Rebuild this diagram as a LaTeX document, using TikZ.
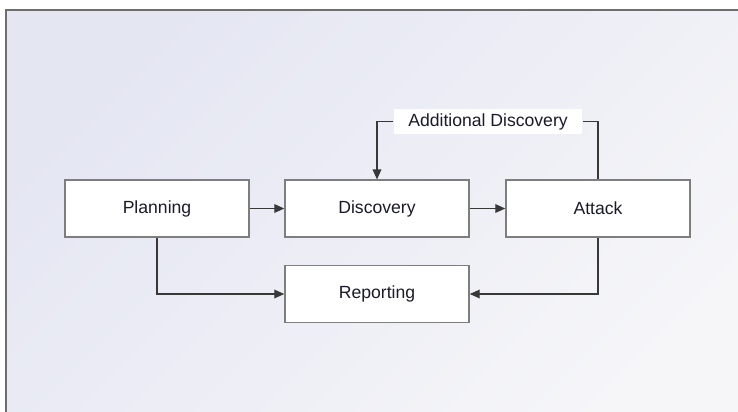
\documentclass[tikz,border=0pt]{standalone}
\usepackage{fontspec}
\setmainfont{Liberation Sans}
\usetikzlibrary{arrows.meta}
\definecolor{paneltl}{HTML}{E4E6F2}
\definecolor{panelbr}{HTML}{F6F6F9}
\definecolor{frameline}{HTML}{6E6E6E}
\definecolor{boxline}{HTML}{7E7E7E}
\definecolor{wire}{HTML}{383838}
\definecolor{inktext}{HTML}{1A1A2A}
\begin{document}
\begin{tikzpicture}[x=0.75pt,y=-0.75pt,
  stage/.style={draw=boxline, line width=1.1pt, fill=white, minimum width=138pt,
    minimum height=42.5pt, inner sep=0pt, font=\fontsize{13.2}{15}\selectfont,
    text=inktext},
  wirebox/.style={fill=white, inner xsep=11pt, inner ysep=0pt, minimum height=19pt,
    font=\fontsize{13.2}{15}\selectfont, text=inktext},
  link/.style={draw=wire, line width=0.95pt, -{Triangle[length=7.5pt,width=6.5pt]}},
  plain/.style={draw=wire, line width=0.95pt}]
  \useasboundingbox (0,0) rectangle (738,411);
  % page background and the shaded panel
  \fill[white] (0,0) rectangle (738,411);
  \shade[top color=paneltl, bottom color=panelbr, shading angle=45]
    (6,10) rectangle (760,430);
  \draw[frameline, line width=1pt] (760,10) -- (6,10) -- (6,430);
  % stages
  \node[stage] (plan) at (157,208.5) {Planning};
  \node[stage] (disc) at (377,208.5) {Discovery};
  \node[stage] (att)  at (598,208.5) {Attack};
  \node[stage] (rep)  at (377,294)   {Reporting};
  \node[wirebox] (addl) at (488,121.5) {Additional Discovery};
  % connectors
  \draw[link] (plan.east) -- (disc.west);
  \draw[link] (disc.east) -- (att.west);
  \draw[link] (plan.south) |- (rep.west);
  \draw[link] (att.south) |- (rep.east);
  \draw[plain] (att.north) |- (addl.east);
  \draw[link] (addl.west) -| (disc.north);
\end{tikzpicture}
\end{document}
